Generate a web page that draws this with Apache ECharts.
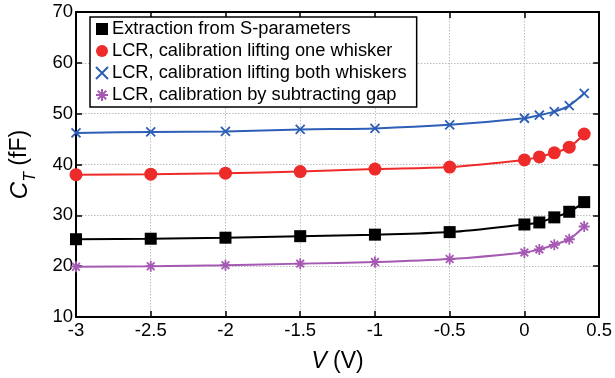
<!DOCTYPE html>
<html><head><meta charset="utf-8">
<script src="https://cdn.jsdelivr.net/npm/echarts@6/dist/echarts.min.js"></script>
<style>html,body{margin:0;padding:0;background:#fff}#c{width:615px;height:378px}</style>
</head><body><div id="c"></div>
<script>
var voltages = [-3, -2.5, -2, -1.5, -1, -0.5, 0, 0.1, 0.2, 0.3, 0.4];
var sParam   = [25.3, 25.4, 25.6, 25.9, 26.2, 26.7, 28.2, 28.6, 29.6, 30.7, 32.6];
var lcrOne   = [38.0, 38.1, 38.3, 38.6, 39.1, 39.5, 40.9, 41.5, 42.3, 43.4, 46.0];
var lcrBoth  = [46.2, 46.4, 46.5, 46.9, 47.1, 47.8, 49.1, 49.7, 50.4, 51.6, 54.0];
var lcrGap   = [19.9, 20.0, 20.2, 20.5, 20.8, 21.4, 22.7, 23.3, 24.2, 25.3, 27.8];
var seriesNames = ['Extraction from S-parameters', 'LCR, calibration lifting one whisker', 'LCR, calibration lifting both whiskers', 'LCR, calibration by subtracting gap'];
var xTicks = {min: -3, max: 0.5, interval: 0.5};
var yTicks = {min: 10, max: 70, interval: 10};

var FONT = 'Liberation Sans, Arial, sans-serif';
function pairs(ys){ return voltages.map(function(x,i){ return [x, ys[i]]; }); }
var XPATH = 'path://M0,0L10,10M10,0L0,10';
var STAR = 'path://M5,0L5,10M0,5L10,5M1.5,1.5L8.5,8.5M8.5,1.5L1.5,8.5';

var chart = echarts.init(document.getElementById('c'), null, {renderer: 'canvas'});
function mk(name, ys, color, symbol, size, itemStyle){
  return {
    name: name, type: 'line', data: pairs(ys), smooth: 0.3,
    symbol: symbol, symbolSize: size, showSymbol: true,
    lineStyle: {color: color, width: 2},
    itemStyle: itemStyle,
    z: 3
  };
}
var option = {
  animation: false,
  grid: {left: 72, right: 11, top: 12, bottom: 51, containLabel: false},
  legend: {
    orient: 'vertical', left: 90, top: 17,
    backgroundColor: '#fff', borderColor: '#000', borderWidth: 1.5,
    padding: [3, 10, 3, 5], itemGap: 4, itemWidth: 12, itemHeight: 12,
    textStyle: {fontFamily: FONT, fontSize: 18.3, color: '#000', padding: [0,0,0,-1]},
    data: [
      {name: seriesNames[0], icon: 'rect'},
      {name: seriesNames[1], icon: 'circle'},
      {name: seriesNames[2], icon: XPATH},
      {name: seriesNames[3], icon: STAR}
    ]
  },
  xAxis: [{
    type: 'value', min: xTicks.min, max: xTicks.max, interval: xTicks.interval,
    name: '{i|V}{n| (V)}', nameLocation: 'middle', nameGap: 33,
    nameTextStyle: {rich: {i: {fontFamily: FONT, fontSize: 23, fontStyle: 'italic', color: '#000'}, n: {fontFamily: FONT, fontSize: 23, color: '#000'}}},
    axisLine: {show: true, onZero: false, lineStyle: {color: '#000', width: 2}},
    axisTick: {show: true, inside: true, length: 6, lineStyle: {color: '#000', width: 1.5}},
    axisLabel: {fontFamily: FONT, fontSize: 18.5, color: '#000', margin: 4},
    splitLine: {show: true, lineStyle: {color: '#bdbdbd', type: [1.5, 1.5], width: 1}}
  }, {
    type: 'value', position: 'top', min: xTicks.min, max: xTicks.max, interval: xTicks.interval,
    axisLine: {show: true, onZero: false, lineStyle: {color: '#000', width: 2}},
    axisTick: {show: true, inside: true, length: 6, lineStyle: {color: '#000', width: 1.5}},
    axisLabel: {show: false}, splitLine: {show: false}
  }],
  yAxis: [{
    type: 'value', min: yTicks.min, max: yTicks.max, interval: yTicks.interval,
    name: '{c|C}{t|T}{n| (fF)}', nameLocation: 'middle', nameGap: 37, nameRotate: 90,
    nameTextStyle: {rich: {
      c: {fontFamily: FONT, fontSize: 24, fontStyle: 'italic', color: '#000', padding: [0,0,7,0]},
      t: {fontFamily: FONT, fontSize: 16, fontStyle: 'italic', color: '#000', verticalAlign: 'bottom'},
      n: {fontFamily: FONT, fontSize: 23, color: '#000', padding: [0,0,7,0]}
    }},
    axisLine: {show: true, onZero: false, lineStyle: {color: '#000', width: 2}},
    axisTick: {show: true, inside: true, length: 6, lineStyle: {color: '#000', width: 1.5}},
    axisLabel: {fontFamily: FONT, fontSize: 18.5, color: '#000', margin: 3},
    splitLine: {show: true, lineStyle: {color: '#bdbdbd', type: [1.5, 1.5], width: 1}}
  }, {
    type: 'value', position: 'right', min: yTicks.min, max: yTicks.max, interval: yTicks.interval,
    axisLine: {show: true, onZero: false, lineStyle: {color: '#000', width: 2}},
    axisTick: {show: true, inside: true, length: 6, lineStyle: {color: '#000', width: 1.5}},
    axisLabel: {show: false}, splitLine: {show: false}
  }],
  series: [
    mk(seriesNames[0], sParam, '#000000', 'rect', 12, {color: '#000000'}),
    mk(seriesNames[1], lcrOne, '#ee2b2b', 'circle', 13, {color: '#ee2b2b'}),
    mk(seriesNames[2], lcrBoth, '#2d5fb7', XPATH, 9, {color: 'rgba(0,0,0,0)', borderColor: '#2d5fb7', borderWidth: 1.8}),
    mk(seriesNames[3], lcrGap, '#a559b3', STAR, 11, {color: 'rgba(0,0,0,0)', borderColor: '#a559b3', borderWidth: 1.8})
  ]
};
chart.setOption(option);
</script></body></html>
